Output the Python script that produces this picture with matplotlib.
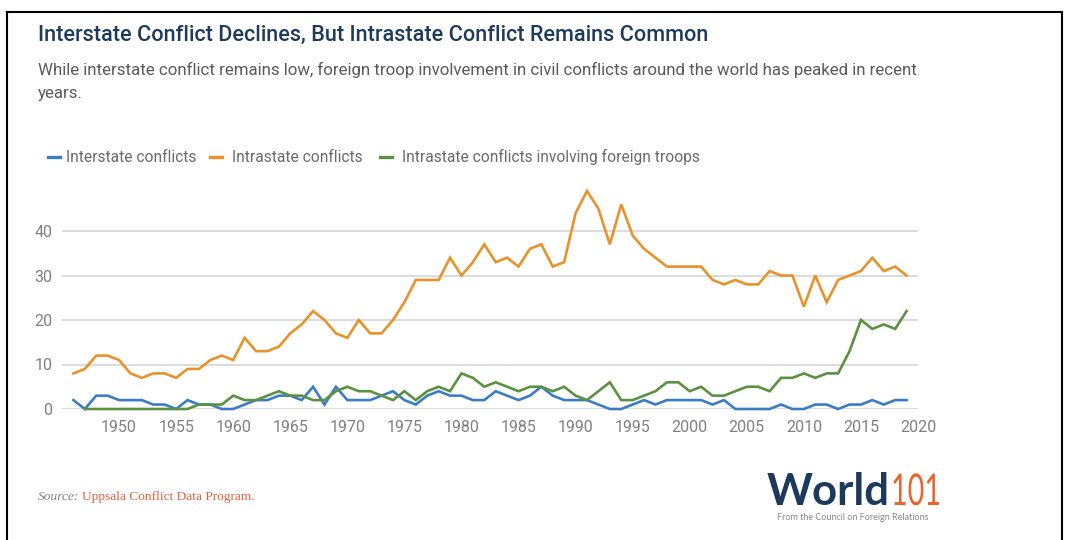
import numpy as np
import matplotlib
matplotlib.use("Agg")
import matplotlib.pyplot as plt
from matplotlib.lines import Line2D
from matplotlib.textpath import TextPath
from matplotlib.patches import PathPatch
from matplotlib.font_manager import FontProperties
from matplotlib.transforms import Affine2D, IdentityTransform

years = list(range(1946, 2020))

interstate = [2, 0, 3, 3, 2, 2, 2, 1, 1, 0,
              2, 1, 1, 0, 0, 1, 2, 2, 3, 3,
              2, 5, 1, 5, 2, 2, 2, 3, 4, 2,
              1, 3, 4, 3, 3, 2, 2, 4, 3, 2,
              3, 5, 3, 2, 2, 2, 1, 0, 0, 1,
              2, 1, 2, 2, 2, 2, 1, 2, 0, 0,
              0, 0, 1, 0, 0, 1, 1, 0, 1, 1,
              2, 1, 2, 2]

intrastate = [8, 9, 12, 12, 11, 8, 7, 8, 8, 7,
              9, 9, 11, 12, 11, 16, 13, 13, 14, 17,
              19, 22, 20, 17, 16, 20, 17, 17, 20, 24,
              29, 29, 29, 34, 30, 33, 37, 33, 34, 32,
              36, 37, 32, 33, 44, 49, 45, 37, 46, 39,
              36, 34, 32, 32, 32, 32, 29, 28, 29, 28,
              28, 31, 30, 30, 23, 30, 24, 29, 30, 31,
              34, 31, 32, 30]

foreign = [np.nan, 0, 0, 0, 0, 0, 0, 0, 0, 0,
           0, 1, 1, 1, 3, 2, 2, 3, 4, 3,
           3, 2, 2, 4, 5, 4, 4, 3, 2, 4,
           2, 4, 5, 4, 8, 7, 5, 6, 5, 4,
           5, 5, 4, 5, 3, 2, 4, 6, 2, 2,
           3, 4, 6, 6, 4, 5, 3, 3, 4, 5,
           5, 4, 7, 7, 8, 7, 8, 8, 13, 20,
           18, 19, 18, 22]

series_names = ["Interstate conflicts", "Intrastate conflicts",
                "Intrastate conflicts involving foreign troops"]
colors = ["#3b7dc4", "#e8922b", "#5b9141"]
x_ticks = list(range(1950, 2021, 5))
y_ticks = [0, 10, 20, 30, 40]

W, H = 1068, 540
fig = plt.figure(figsize=(W / 100, H / 100), dpi=100)
fig.patch.set_facecolor("white")

def fx(x):
    return x / W

def fy(y):
    return 1 - y / H

SANS = ["Roboto", "DejaVu Sans"]
SERIF = ["Liberation Serif", "DejaVu Serif"]

ax = fig.add_axes([fx(62), fy(409), (918 - 62) / W, (409 - 186.5) / H])
ax.set_xlim(1945, 2020)
ax.set_ylim(0, 50)
for s in ax.spines.values():
    s.set_visible(False)
ax.set_yticks(y_ticks)
ax.set_xticks(x_ticks)
ax.grid(axis="y", color="#d9d9d9", linewidth=1.3)
ax.set_axisbelow(True)
ax.tick_params(length=0, colors="#808080", labelsize=11.5, pad=8)
ax.tick_params(axis="y", pad=7)
for lab in ax.get_xticklabels() + ax.get_yticklabels():
    lab.set_family(SANS)

for vals, col in zip([interstate, intrastate, foreign], colors):
    ax.plot(years, vals, color=col, linewidth=1.9, clip_on=False,
            solid_joinstyle="miter")

# Title & subtitle
fig.text(fx(38), fy(35), "Interstate Conflict Declines, But Intrastate Conflict Remains Common",
         family=SANS, fontsize=15.6, fontweight="medium", color="#1f3b5c",
         va="center", ha="left")
fig.text(fx(38), fy(70), "While interstate conflict remains low, foreign troop involvement in civil conflicts around the world has peaked in recent",
         family=SANS, fontsize=12.2, color="#5a5a5a", va="center", ha="left")
fig.text(fx(38), fy(93), "years.", family=SANS, fontsize=12.2, color="#5a5a5a",
         va="center", ha="left")

# Legend
leg_items = [(48, 66), (210, 232), (380, 402)]
for (lx, tx), name, col in zip(leg_items, series_names, colors):
    fig.add_artist(Line2D([fx(lx), fx(lx + 12)], [fy(157), fy(157)],
                          transform=fig.transFigure, color=col, linewidth=2.4))
    fig.text(fx(tx), fy(157), name, family=SANS, fontsize=11.2,
             color="#6a6a6a", va="center", ha="left")

# Source
t1 = fig.text(fx(38), fy(497), "Source:", family=SERIF, style="italic",
              fontsize=9.6, color="#808080", va="center", ha="left")
fig.canvas.draw()
bb = t1.get_window_extent()
fig.text(bb.x1 / W + fx(3), fy(497), "Uppsala Conflict Data Program.",
         family=SERIF, fontsize=9.6, color="#e2603c", va="center", ha="left")

# Logo
t2 = fig.text(fx(767), fy(505), "World", family=["Lato", "DejaVu Sans"],
              fontweight="bold", fontsize=31.5, color="#1d3a5c",
              va="baseline", ha="left")
fig.canvas.draw()
bb2 = t2.get_window_extent()
tp = TextPath((0, 0), "101", size=31.5 * 100 / 72,
              prop=FontProperties(family=["Lato", "DejaVu Sans"], weight="normal"))
tw = tp.get_extents().x1
sx = 48.0 / tw
trans = Affine2D().scale(sx, 1.0).translate(bb2.x1 + 1, H - 505) + IdentityTransform()
fig.add_artist(PathPatch(tp, transform=trans, facecolor="#e8652f",
                         edgecolor="none"))
fig.text(fx(853), fy(518), "From the Council on Foreign Relations",
         family=["Lato", "DejaVu Sans"], fontsize=6.5, color="#8a8a8a",
         va="center", ha="center")

# Border
for xs, ys in [([7, 7], [12, 540]), ([7, 1062], [12, 12]), ([1062, 1062], [12, 540])]:
    fig.add_artist(Line2D([fx(v) for v in xs], [fy(v) for v in ys],
                          transform=fig.transFigure, color="black", linewidth=1.5))

fig.savefig("out.png", dpi=100, facecolor="white")
